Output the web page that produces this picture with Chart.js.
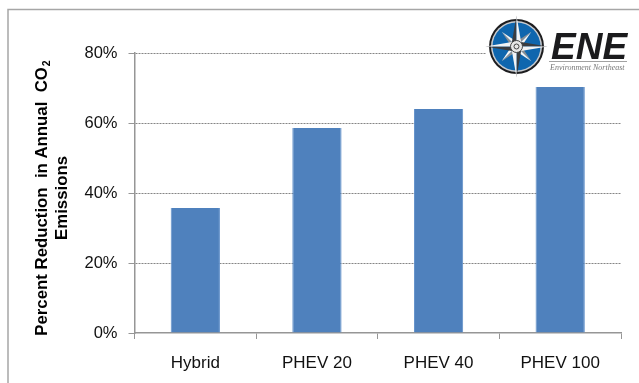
<!DOCTYPE html>
<html>
<head>
<meta charset="utf-8">
<style>
  html, body { margin: 0; padding: 0; background: #fff; }
  #wrap { width: 639px; height: 383px; position: relative; overflow: hidden; }
</style>
<script src="https://cdn.jsdelivr.net/npm/chart.js@4"></script>
</head>
<body>
<div id="wrap"><canvas id="myChart" width="639" height="383"></canvas></div>
<script>
const categories = ['Hybrid', 'PHEV 20', 'PHEV 40', 'PHEV 100']
const reduction = [35.7, 58.6, 64, 70.3]
const yTicks = [0, 20, 40, 60, 80]
const yTitleLine1 = 'Percent Reduction  in Annual  CO'
const yTitleSub = '2'
const yTitleLine2 = 'Emissions'

const FONT = '"Liberation Sans", Arial, sans-serif'

// grey frame of the original slide
const framePlugin = {
  id: 'frame',
  beforeDraw(chart) {
    const ctx = chart.ctx
    ctx.save()
    ctx.strokeStyle = '#a6a6a6'
    ctx.lineWidth = 1.5
    ctx.beginPath()
    ctx.moveTo(8, 383)
    ctx.lineTo(8, 9.5)
    ctx.lineTo(639, 9.5)
    ctx.stroke()
    ctx.restore()
  }
}

// axis title needs a real subscript and sits a bit below the axis middle
const yTitlePlugin = {
  id: 'yTitle',
  afterDraw(chart) {
    const ctx = chart.ctx
    const midY = 198
    ctx.save()
    ctx.fillStyle = '#000'
    ctx.textBaseline = 'alphabetic'
    ctx.font = 'bold 16.8px ' + FONT
    const w1 = ctx.measureText(yTitleLine1).width
    const w2 = ctx.measureText(yTitleLine2).width
    ctx.font = 'bold 10.5px ' + FONT
    const wSub = ctx.measureText(yTitleSub).width

    ctx.translate(47, midY)
    ctx.rotate(-Math.PI / 2)
    ctx.font = 'bold 16.8px ' + FONT
    const start = -(w1 + wSub + 1) / 2
    ctx.fillText(yTitleLine1, start, 0)
    ctx.fillText(yTitleLine2, -w2 / 2, 20)
    ctx.font = 'bold 10.5px ' + FONT
    ctx.fillText(yTitleSub, start + w1 + 1, 2.5)
    ctx.restore()
  }
}

// ENE logo, top right
const logoPlugin = {
  id: 'logo',
  afterDraw(chart) {
    const ctx = chart.ctx
    const cx = 516.5, cy = 46.5
    ctx.save()
    ctx.fillStyle = '#fff'
    ctx.fillRect(486, 14, 150, 66)

    ctx.beginPath(); ctx.arc(cx, cy, 27.5, 0, Math.PI * 2); ctx.fillStyle = '#1d1d1f'; ctx.fill()
    ctx.beginPath(); ctx.arc(cx, cy, 25.5, 0, Math.PI * 2); ctx.fillStyle = '#c9ccd0'; ctx.fill()
    ctx.beginPath(); ctx.arc(cx, cy, 24, 0, Math.PI * 2); ctx.fillStyle = '#0f66ae'; ctx.fill()

    const star = (len, waist, rot, dark, light) => {
      for (let i = 0; i < 4; i++) {
        const a = rot + i * Math.PI / 2
        const tx = cx + Math.cos(a) * len, ty = cy + Math.sin(a) * len
        const lx = cx + Math.cos(a - Math.PI / 4) * waist, ly = cy + Math.sin(a - Math.PI / 4) * waist
        const rx = cx + Math.cos(a + Math.PI / 4) * waist, ry = cy + Math.sin(a + Math.PI / 4) * waist
        ctx.beginPath(); ctx.moveTo(cx, cy); ctx.lineTo(lx, ly); ctx.lineTo(tx, ty); ctx.closePath()
        ctx.fillStyle = dark; ctx.fill()
        ctx.beginPath(); ctx.moveTo(cx, cy); ctx.lineTo(rx, ry); ctx.lineTo(tx, ty); ctx.closePath()
        ctx.fillStyle = light; ctx.fill()
      }
    }
    star(21, 5, Math.PI / 4, '#8a8e92', '#f4f4f4')
    star(31, 6.5, 0, '#3a3c40', '#f2f3f5')

    ctx.beginPath(); ctx.arc(cx, cy, 6, 0, Math.PI * 2); ctx.fillStyle = '#e6e6e6'; ctx.fill()
    ctx.lineWidth = 1; ctx.strokeStyle = '#444'; ctx.stroke()
    ctx.beginPath(); ctx.arc(cx, cy, 2.5, 0, Math.PI * 2); ctx.stroke()

    ctx.fillStyle = '#1b1b1d'
    ctx.textBaseline = 'alphabetic'
    ctx.textAlign = 'left'
    ctx.font = 'italic bold 37px ' + FONT
    ctx.fillText('ENE', 551, 59)

    ctx.strokeStyle = '#8a8a8a'
    ctx.lineWidth = 0.8
    ctx.beginPath(); ctx.moveTo(549, 61.5); ctx.lineTo(627, 61.5); ctx.stroke()

    ctx.fillStyle = '#777'
    ctx.font = 'italic 8px "Liberation Serif", serif'
    ctx.fillText('Environment Northeast', 550, 69.5)
    ctx.restore()
  }
}

new Chart(document.getElementById('myChart'), {
  type: 'bar',
  data: {
    labels: categories,
    datasets: [{
      data: reduction,
      backgroundColor: '#4f81bd',
      borderColor: '#5f8fc9',
      borderWidth: { left: 1, right: 1 },
      barPercentage: 0.405,
      categoryPercentage: 1
    }]
  },
  plugins: [framePlugin, yTitlePlugin, logoPlugin],
  options: {
    responsive: false,
    animation: false,
    layout: { padding: { top: 53, right: 18, bottom: 0, left: 0 } },
    plugins: { legend: { display: false }, tooltip: { enabled: false } },
    scales: {
      x: {
        afterFit(scale) { scale.height = 50 },
        border: { color: '#969696', width: 1.5 },
        grid: { drawOnChartArea: false, tickColor: '#969696', tickLength: 6, tickWidth: 1 },
        ticks: {
          color: '#111',
          padding: 14,
          maxRotation: 0,
          font: { family: FONT, size: 17 }
        }
      },
      y: {
        min: 0,
        max: 80,
        afterFit(scale) { scale.width = 134.5 },
        afterBuildTicks(scale) { scale.ticks = yTicks.map(v => ({ value: v })) },
        border: { color: '#969696', width: 1.5, dash: [2, 1] },
        grid: {
          color: ctx => ctx.tick && ctx.tick.value === 0 ? 'rgba(0,0,0,0)' : '#858585',
          lineWidth: 1,
          tickLength: 6,
          tickColor: '#969696',
          tickBorderDash: []
        },
        ticks: {
          color: '#111',
          padding: 11,
          font: { family: FONT, size: 16.5 },
          callback: v => v + '%'
        }
      }
    }
  }
})
</script>
</body>
</html>
